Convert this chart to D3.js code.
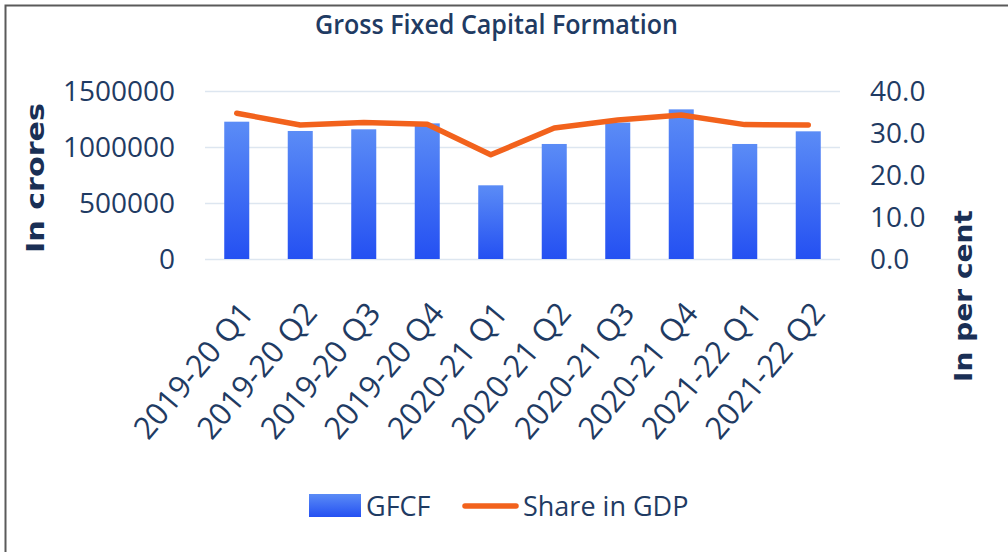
<!DOCTYPE html>
<meta charset="utf-8">
<style>
body { margin: 0; background: #fff; }
svg { display: block; }
.tick text { font-family: "Open Sans", sans-serif; fill: #1f3b63; }
.grid line { stroke: #dde6f0; stroke-width: 1.5px; }
.grid path { stroke: none; }
</style>
<body>
<script src="https://d3js.org/d3.v7.min.js"></script>
<script>
// data
var quarters = ["2019-20 Q1", "2019-20 Q2", "2019-20 Q3", "2019-20 Q4", "2020-21 Q1",
                "2020-21 Q2", "2020-21 Q3", "2020-21 Q4", "2021-22 Q1", "2021-22 Q2"];
var gfcf = [1226000, 1143000, 1158000, 1211000, 658000, 1027000, 1218000, 1336000, 1027000, 1140000];
var shareGdp = [34.7, 31.9, 32.5, 32.1, 24.8, 31.2, 33.1, 34.3, 32.0, 31.9];
var leftTicks = [0, 500000, 1000000, 1500000];
var rightTicks = [0, 10, 20, 30, 40];

var W = 1008, H = 552;
var plot = {left: 205, right: 840, top: 91, bottom: 259};

var svg = d3.select("body").append("svg")
    .attr("width", W)
    .attr("height", H);

// frame (left + top edges only, as in the screenshot)
svg.append("path")
    .attr("d", "M5.5," + H + "V5.5H" + W)
    .attr("fill", "none")
    .attr("stroke", "#5a5a5a")
    .attr("stroke-width", 2);

var x = d3.scaleBand()
    .domain(quarters)
    .range([plot.left, plot.right])
    .paddingInner(0.606)
    .paddingOuter(0.303);

var yL = d3.scaleLinear().domain([0, 1500000]).range([plot.bottom, plot.top]);
var yR = d3.scaleLinear().domain([0, 40]).range([plot.bottom, plot.top]);

// gridlines
svg.append("g")
    .attr("class", "grid")
    .attr("transform", "translate(" + plot.left + ",0)")
    .call(d3.axisLeft(yL).tickValues(leftTicks).tickSize(-(plot.right - plot.left)).tickFormat(""));

// left axis
var gl = svg.append("g")
    .attr("transform", "translate(" + (plot.left - 30) + ",0)")
    .call(d3.axisLeft(yL).tickValues(leftTicks).tickSize(0).tickPadding(0).tickFormat(d3.format("d")));
gl.select(".domain").remove();
gl.selectAll("text").style("font-size", "28px").attr("dy", "0.35em");

// right axis
var gr = svg.append("g")
    .attr("transform", "translate(" + (plot.right + 30) + ",0)")
    .call(d3.axisRight(yR).tickValues(rightTicks).tickSize(0).tickPadding(0).tickFormat(d3.format(".1f")));
gr.select(".domain").remove();
gr.selectAll("text").style("font-size", "28px").attr("dy", "0.35em");

// bar gradient
var grad = svg.append("defs").append("linearGradient")
    .attr("id", "barGrad")
    .attr("x1", 0).attr("y1", 0).attr("x2", 0).attr("y2", 1);
grad.append("stop").attr("offset", "0%").attr("stop-color", "#5b8cf6");
grad.append("stop").attr("offset", "100%").attr("stop-color", "#2450f2");

svg.selectAll("rect.bar")
    .data(gfcf)
    .enter()
    .append("rect")
    .attr("class", "bar")
    .attr("x", function(d, i) { return x(quarters[i]); })
    .attr("y", function(d) { return yL(d); })
    .attr("width", x.bandwidth())
    .attr("height", function(d) { return yL(0) - yL(d); })
    .attr("fill", "url(#barGrad)");

var line = d3.line()
    .x(function(d, i) { return x(quarters[i]) + x.bandwidth() / 2; })
    .y(function(d) { return yR(d); });

svg.append("path")
    .datum(shareGdp)
    .attr("d", line)
    .attr("fill", "none")
    .attr("stroke", "#f2621c")
    .attr("stroke-width", 5.5)
    .attr("stroke-linejoin", "round")
    .attr("stroke-linecap", "round");

// x labels, rotated
svg.selectAll("text.xlab")
    .data(quarters)
    .enter()
    .append("text")
    .attr("class", "xlab")
    .attr("transform", function(d) {
        return "translate(" + (x(d) + x.bandwidth() / 2 + 10) + ",307) rotate(-50)";
    })
    .attr("text-anchor", "end")
    .attr("dy", "0.35em")
    .style("font-family", "'Open Sans', sans-serif")
    .style("font-size", "31px")
    .style("fill", "#1f3b63")
    .text(function(d) { return d; });

// title
svg.append("text")
    .attr("x", 315)
    .attr("y", 34)
    .attr("textLength", 363)
    .attr("lengthAdjust", "spacingAndGlyphs")
    .style("font-family", "'Open Sans', sans-serif")
    .style("font-weight", 600)
    .style("font-size", "27px")
    .style("fill", "#1f3b63")
    .text("Gross Fixed Capital Formation");

// axis titles
svg.append("text")
    .attr("transform", "translate(44,178) rotate(-90)")
    .attr("text-anchor", "middle")
    .attr("textLength", 150)
    .attr("lengthAdjust", "spacingAndGlyphs")
    .style("font-family", "'DejaVu Sans', sans-serif")
    .style("font-weight", "bold")
    .style("font-size", "24px")
    .style("fill", "#1a2f55")
    .text("In crores");

svg.append("text")
    .attr("transform", "translate(972,296) rotate(-90)")
    .attr("text-anchor", "middle")
    .attr("textLength", 172)
    .attr("lengthAdjust", "spacingAndGlyphs")
    .style("font-family", "'DejaVu Sans', sans-serif")
    .style("font-weight", "bold")
    .style("font-size", "24px")
    .style("fill", "#1a2f55")
    .text("In per cent");

// legend
var legend = svg.append("g");
legend.append("rect")
    .attr("x", 309).attr("y", 494)
    .attr("width", 52).attr("height", 23)
    .attr("fill", "url(#barGrad)");
legend.append("text")
    .attr("x", 366).attr("y", 516)
    .style("font-family", "'Open Sans', sans-serif")
    .style("font-size", "27px")
    .style("fill", "#1f3b63")
    .text("GFCF");
legend.append("line")
    .attr("x1", 465).attr("x2", 516)
    .attr("y1", 506).attr("y2", 506)
    .attr("stroke", "#f2621c")
    .attr("stroke-width", 5.5)
    .attr("stroke-linecap", "round");
legend.append("text")
    .attr("x", 523).attr("y", 516)
    .style("font-family", "'Open Sans', sans-serif")
    .style("font-size", "27px")
    .style("fill", "#1f3b63")
    .text("Share in GDP");
</script>
</body>
